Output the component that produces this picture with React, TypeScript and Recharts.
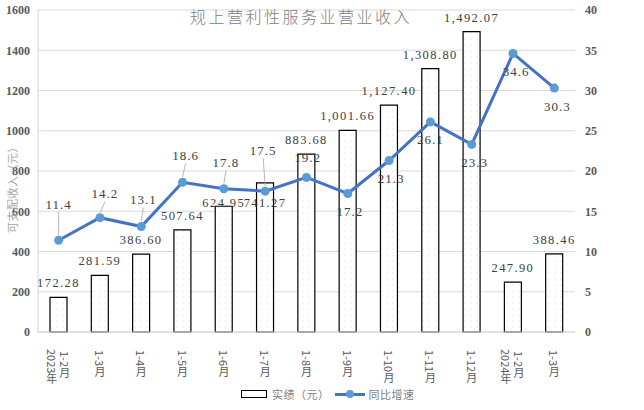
import { Bar, CartesianGrid, ComposedChart, LabelList, Line, XAxis, YAxis } from "recharts";

const CATEGORIES = [
  "2023年|1-2月",
  "1-3月",
  "1-4月",
  "1-5月",
  "1-6月",
  "1-7月",
  "1-8月",
  "1-9月",
  "1-10月",
  "1-11月",
  "1-12月",
  "2024年|1-2月",
  "1-3月",
];
const REVENUE = [172.28, 281.59, 386.6, 507.64, 624.95, 741.27, 883.68, 1001.66, 1127.4, 1308.8, 1492.07, 247.9, 388.46];
const GROWTH = [11.4, 14.2, 13.1, 18.6, 17.8, 17.5, 19.2, 17.2, 21.3, 26.1, 23.3, 34.6, 30.3];
const LEFT_TICKS = [0, 200, 400, 600, 800, 1000, 1200, 1400, 1600];
const RIGHT_TICKS = [0, 5, 10, 15, 20, 25, 30, 35, 40];

// label placement tweaks (like the hand-moved labels in the original)
const BAR_LABEL_NUDGE: Record<number, number> = { 4: 11, 5: 34 };
const LINE_LABEL_DY = [-36, -24, -27, -27, -26, -41, -20, 18, 18, 18, 18, 18, 18];
const LINE_LABEL_DX = [0, 5, 2, 3, 2, -2, 1, 2, 2, 0, 3, 3, 3];

const data = CATEGORIES.map((label, i) => ({
  label,
  revenue: REVENUE[i],
  growth: GROWTH[i],
}));

const SERIF = '"Liberation Serif", "DejaVu Serif", serif';
const CJK = '"Noto Sans CJK SC", "Noto Sans", sans-serif';

function XTick(props: any) {
  const { x, y, payload } = props;
  const parts = String(payload.value).split("|");
  const style = { writingMode: "vertical-rl" as const, textOrientation: "mixed" as const };
  if (parts.length === 2) {
    return (
      <g>
        <text x={x - 7} y={y + 9} fontSize={11} fill="#595959" fontFamily={CJK} style={style}>
          {parts[0]}
        </text>
        <text x={x + 6} y={y + 11} fontSize={11} fill="#595959" fontFamily={CJK} style={style}>
          {parts[1]}
        </text>
      </g>
    );
  }
  return (
    <text x={x} y={y + 10} fontSize={11} fill="#595959" fontFamily={CJK} style={style}>
      {parts[0]}
    </text>
  );
}

function BarValueLabel(props: any) {
  const { x, y, width, value, index } = props;
  const txt = Number(value).toLocaleString("en-US", { minimumFractionDigits: 2, maximumFractionDigits: 2 });
  return (
    <text
      x={x + width / 2}
      y={y - 14 + (BAR_LABEL_NUDGE[index] ?? 0)}
      textAnchor="middle"
      dominantBaseline="central"
      fontSize={12.5}
      letterSpacing={1.4}
      fill="#404040"
      fontFamily={SERIF}
    >
      {txt}
    </text>
  );
}

function GrowthLabel(props: any) {
  const { x, y, value, index } = props;
  const dy = LINE_LABEL_DY[index];
  const dx = LINE_LABEL_DX[index];
  return (
    <g>
      {dy <= -24 && (
        <line x1={x + dx} y1={y + dy + 8} x2={x} y2={y - 5} stroke="#a6a6a6" strokeWidth={0.8} />
      )}
      <text
        x={x + dx}
        y={y + dy}
        textAnchor="middle"
        dominantBaseline="central"
        fontSize={13}
        letterSpacing={1}
        fill="#404040"
        fontFamily={SERIF}
      >
        {value.toFixed(1)}
      </text>
    </g>
  );
}

export default function App() {
  const axisTick = { fill: "#595959", fontSize: 12, fontWeight: 700, fontFamily: SERIF };
  return (
    <div style={{ position: "absolute", left: 0, top: 0, width: 644, height: 410, background: "#fff" }}>
      <svg width={0} height={0} style={{ position: "absolute" }}>
        <defs>
          <pattern id="dots" width={6} height={6} patternUnits="userSpaceOnUse">
            <rect width={6} height={6} fill="#fff" />
            <circle cx={3} cy={3} r={0.5} fill="#c8c8c8" />
          </pattern>
        </defs>
      </svg>
      <ComposedChart width={644} height={410} data={data} margin={{ top: 10, right: 0, bottom: 0, left: 0 }}>
        <CartesianGrid vertical={false} stroke="#d9d9d9" />
        <XAxis
          dataKey="label"
          interval={0}
          height={78}
          tickLine={false}
          axisLine={{ stroke: "#d0d7e5" }}
          tick={<XTick />}
        />
        <YAxis
          domain={[0, 1600]}
          ticks={LEFT_TICKS}
          width={38}
          tickLine={false}
          tickSize={6}
          tickMargin={2}
          axisLine={{ stroke: "#c5d9f1" }}
          tick={axisTick}
        />
        <YAxis
          yAxisId="right"
          orientation="right"
          domain={[0, 40]}
          ticks={RIGHT_TICKS}
          width={69}
          tickLine={false}
          tickSize={6}
          tickMargin={4}
          axisLine={false}
          tick={axisTick}
        />
        <Bar dataKey="revenue" barSize={17} fill="url(#dots)" stroke="#000" strokeWidth={1.2} isAnimationActive={false}>
          <LabelList dataKey="revenue" content={<BarValueLabel />} />
        </Bar>
        <Line
          yAxisId="right"
          dataKey="growth"
          stroke="#4472C4"
          strokeWidth={3}
          dot={{ r: 4.5, fill: "#5B9BD5", stroke: "#5B9BD5", strokeWidth: 0 }}
          isAnimationActive={false}
        >
          <LabelList dataKey="growth" content={<GrowthLabel />} />
        </Line>
      </ComposedChart>

      <div
        style={{
          position: "absolute",
          left: 301,
          top: 6,
          transform: "translateX(-50%)",
          whiteSpace: "nowrap",
          fontFamily: CJK,
          fontSize: 16,
          lineHeight: "20px",
          letterSpacing: 2.5,
          color: "#808080",
          fontWeight: 300,
        }}
      >
        规上营利性服务业营业收入
      </div>

      <div
        style={{
          position: "absolute",
          left: 12,
          top: 187,
          transform: "translate(-50%, -50%) rotate(-90deg)",
          whiteSpace: "nowrap",
          fontFamily: CJK,
          fontSize: 11,
          letterSpacing: 0.5,
          color: "#a6a6a6",
        }}
      >
        可支配收入（元）
      </div>

      <div
        style={{
          position: "absolute",
          left: 241,
          top: 386,
          display: "flex",
          alignItems: "center",
          fontFamily: CJK,
          fontSize: 11,
          letterSpacing: 0.5,
          color: "#808080",
          lineHeight: "16px",
          whiteSpace: "nowrap",
        }}
      >
        <span style={{ display: "inline-block", width: 24, height: 6, border: "1px solid #000", background: "#fff" }} />
        <span style={{ marginLeft: 5 }}>实绩（元）</span>
        <span style={{ position: "relative", display: "inline-block", width: 30, height: 8, marginLeft: 5 }}>
          <span style={{ position: "absolute", left: 0, top: 2.5, width: 30, height: 3, background: "#4472C4" }} />
          <span
            style={{ position: "absolute", left: 11, top: 0, width: 8, height: 8, borderRadius: 4, background: "#5B9BD5" }}
          />
        </span>
        <span style={{ marginLeft: 4 }}>同比增速</span>
      </div>
    </div>
  );
}
